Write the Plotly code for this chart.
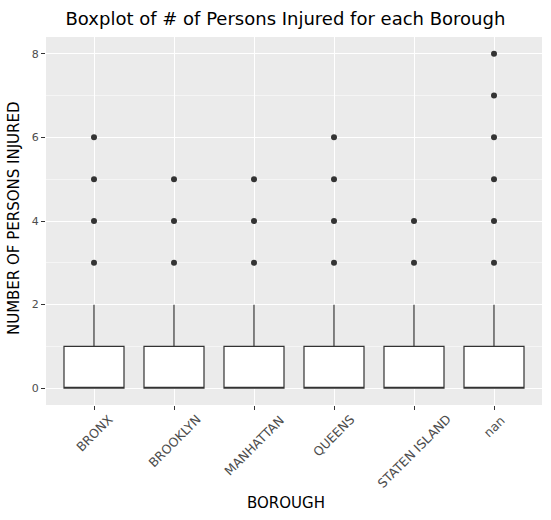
import plotly.graph_objects as go

# box statistics
boroughs = ["BRONX", "BROOKLYN", "MANHATTAN", "QUEENS", "STATEN ISLAND", "nan"]
q1 = [0, 0, 0, 0, 0, 0]
median = [0, 0, 0, 0, 0, 0]
q3 = [1, 1, 1, 1, 1, 1]
lower = [0, 0, 0, 0, 0, 0]
upper = [2, 2, 2, 2, 2, 2]

# outlier points per borough
out_bronx = [3, 4, 5, 6]
out_brooklyn = [3, 4, 5]
out_manhattan = [3, 4, 5]
out_queens = [3, 4, 5, 6]
out_staten = [3, 4]
out_nan = [3, 4, 5, 6, 7, 8]

outliers = [out_bronx, out_brooklyn, out_manhattan, out_queens, out_staten, out_nan]
ox = []
oy = []
for b, pts in zip(boroughs, outliers):
    for p in pts:
        ox.append(b)
        oy.append(p)

fig = go.Figure()
fig.add_trace(go.Box(
    x=boroughs,
    q1=q1, median=median, q3=q3,
    lowerfence=lower, upperfence=upper,
    boxpoints=False,
    width=0.75,
    whiskerwidth=0,
    fillcolor="white",
    line=dict(color="#333333", width=1.2),
    showlegend=False,
))
fig.add_trace(go.Scatter(
    x=ox, y=oy,
    mode="markers",
    marker=dict(color="#333333", size=6),
    showlegend=False,
))

# rotated category labels, centred under each tick like the matplotlib original
labels = []
for b in boroughs:
    labels.append(dict(text=b, xref="x", yref="paper", x=b, y=-0.012,
                       xanchor="center", yanchor="top", textangle=-45,
                       showarrow=False, font=dict(size=12.5, color="#4D4D4D")))

fig.update_layout(
    width=551, height=520,
    margin=dict(l=46, r=9, t=37, b=115),
    paper_bgcolor="white",
    plot_bgcolor="#EBEBEB",
    font=dict(family="DejaVu Sans", color="#4D4D4D", size=11),
    title=dict(
        text="Boxplot of # of Persons Injured for each Borough",
        x=0.518, xanchor="center", y=0.965, yanchor="middle",
        font=dict(size=18, color="black"),
    ),
    xaxis=dict(
        type="category",
        categoryorder="array", categoryarray=boroughs,
        range=[-0.6, 5.6],
        showgrid=True, gridcolor="white", gridwidth=1,
        ticks="outside", ticklen=4, tickcolor="#333333",
        showticklabels=False,
        zeroline=False,
        automargin=False,
    ),
    yaxis=dict(
        range=[-0.4, 8.4],
        tickvals=[0, 2, 4, 6, 8],
        showgrid=True, gridcolor="white", gridwidth=1.2,
        minor=dict(tickvals=[1, 3, 5, 7], showgrid=True, gridcolor="#F5F5F5", gridwidth=0.6),
        ticks="outside", ticklen=4, tickcolor="#333333",
        zeroline=False,
        automargin=False,
    ),
    annotations=labels + [
        dict(text="BOROUGH", xref="paper", yref="paper", x=0.484, y=-0.266,
             xanchor="center", yanchor="middle", showarrow=False,
             font=dict(size=15, color="black")),
        dict(text="NUMBER OF PERSONS INJURED", xref="paper", yref="paper",
             x=-0.0645, y=0.508, textangle=-90, xanchor="center", yanchor="middle",
             showarrow=False, font=dict(size=15, color="black")),
    ],
)

fig.write_html("out.html", config={"displayModeBar": False},
               post_script="document.body.style.margin='0';")
